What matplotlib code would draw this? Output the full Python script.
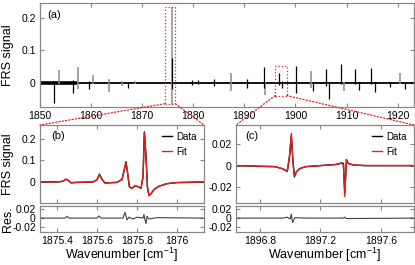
import matplotlib
matplotlib.use("Agg")
import matplotlib.pyplot as plt
from matplotlib.patches import Rectangle, ConnectionPatch

plt.rcParams['font.family'] = ['Liberation Sans', 'DejaVu Sans']
plt.rcParams['mathtext.fontset'] = 'custom'
plt.rcParams['mathtext.rm'] = 'Liberation Sans'

# ---- panel (a): overview line list (position, positive lobe, negative lobe)
black_x = [1852.8, 1856.5, 1859.5, 1867.2, 1875.8, 1879.8, 1881.0, 1884.0, 1890.5,
           1893.8, 1896.8, 1897.4, 1900.1, 1903.5, 1906.0, 1906.5, 1909.0, 1911.7,
           1912.5, 1914.7, 1915.6, 1918.6, 1921.5]
black_top = [0.006, 0.008, 0.004, 0.003, 0.077, 0.008, 0.008, 0.010, 0.010,
             0.048, 0.030, 0.005, 0.052, 0.003, 0.042, 0.003, 0.056, 0.042,
             0.003, 0.046, 0.003, 0.003, 0.003]
black_bot = [-0.064, -0.031, -0.020, -0.015, -0.020, -0.008, -0.003, -0.010, -0.015,
             -0.016, -0.008, -0.018, -0.032, -0.027, -0.010, -0.050, -0.003, -0.005,
             -0.024, -0.005, -0.030, -0.013, -0.020]
gray_x = [1853.8, 1857.5, 1860.4, 1863.6, 1866.0, 1868.5, 1875.85, 1887.4, 1894.0,
          1903.0, 1909.5, 1920.5]
gray_top = [0.040, 0.047, 0.025, 0.011, 0.005, 0.004, 0.234, 0.030, 0.003, 0.036,
            0.003, 0.030]
gray_bot = [-0.005, -0.020, -0.005, -0.030, -0.010, -0.004, -0.068, -0.027, -0.037,
            -0.018, -0.027, -0.003]
base_x = [1850.0, 1923.2]
base_y = [0.0, 0.0]
noisy_x = [1850.3, 1856.8]
noisy_y = [0.0, 0.0]

# ---- panel (b): zoom around 1875.8 cm-1
x_b = [1875.31, 1875.40, 1875.43, 1875.445, 1875.455, 1875.47, 1875.50, 1875.58,
       1875.60, 1875.612, 1875.625, 1875.64, 1875.70, 1875.725, 1875.738, 1875.745,
       1875.752, 1875.762, 1875.775, 1875.79, 1875.805, 1875.82, 1875.83, 1875.837,
       1875.845, 1875.852, 1875.86, 1875.87, 1875.885, 1875.91, 1875.95, 1876.0, 1876.13]
data_b = [0.0, 0.0, 0.003, 0.013, 0.008, -0.004, -0.002, 0.0,
          0.010, 0.036, 0.012, -0.005, -0.002, 0.012, 0.065, 0.094,
          0.048, -0.022, -0.030, -0.018, -0.022, -0.030, 0.025, 0.233,
          0.118, -0.025, -0.063, -0.055, -0.035, -0.020, -0.008, -0.003, 0.0]
fit_b = [0.0, 0.0, 0.003, 0.013, 0.008, -0.004, -0.002, 0.0,
         0.010, 0.035, 0.012, -0.005, -0.002, 0.010, 0.060, 0.090,
         0.050, -0.024, -0.030, -0.018, -0.022, -0.030, 0.020, 0.228,
         0.122, -0.020, -0.065, -0.055, -0.035, -0.020, -0.008, -0.003, 0.0]
xr_b = [1875.31, 1875.44, 1875.45, 1875.46, 1875.60, 1875.61, 1875.62, 1875.73,
        1875.74, 1875.75, 1875.76, 1875.78, 1875.80, 1875.83, 1875.835, 1875.84,
        1875.845, 1875.85, 1875.86, 1875.90, 1876.13]
res_b = [0.0, 0.0, 0.004, 0.0, 0.0, 0.005, 0.0, 0.0,
         0.013, -0.004, 0.002, -0.002, 0.002, 0.0, 0.008, -0.004,
         -0.012, 0.004, -0.002, 0.001, 0.0]

# ---- panel (c): zoom around 1897.2 cm-1
x_c = [1896.64, 1896.90, 1896.95, 1896.98, 1896.995, 1897.007, 1897.017, 1897.027,
       1897.04, 1897.06, 1897.10, 1897.20, 1897.30, 1897.34, 1897.352, 1897.361,
       1897.372, 1897.385, 1897.42, 1897.50, 1897.82]
data_c = [0.0, -0.001, -0.003, -0.0055, 0.008, 0.028, 0.005, -0.0105,
          -0.006, -0.003, -0.001, 0.0, 0.001, 0.0025, 0.002, -0.026,
          0.0056, 0.002, 0.0005, 0.0, 0.0]
fit_c = [0.0, -0.001, -0.003, -0.005, 0.010, 0.030, 0.004, -0.0095,
         -0.006, -0.003, -0.001, 0.0, 0.001, 0.002, 0.001, -0.029,
         0.005, 0.002, 0.0005, 0.0, 0.0]
xr_c = [1896.64, 1896.95, 1896.98, 1897.00, 1897.007, 1897.015, 1897.03, 1897.10,
        1897.35, 1897.36, 1897.37, 1897.82]
res_c = [0.0, 0.0, 0.002, -0.002, 0.009, -0.010, 0.001, 0.0,
         0.0, 0.002, -0.001, 0.0]

W, H = 415, 265
fig = plt.figure(figsize=(W / 100, H / 100), dpi=100)

def rect(l, t, r, b):
    return [l / W, 1 - b / H, (r - l) / W, (b - t) / H]

ax_a = fig.add_axes(rect(40, 3, 414, 107))
ax_b = fig.add_axes(rect(40, 125, 204, 203))
ax_br = fig.add_axes(rect(40, 206, 204, 232))
ax_c = fig.add_axes(rect(236, 125, 414, 203))
ax_cr = fig.add_axes(rect(236, 206, 414, 232))

spine_col = '#888888'
for ax in (ax_a, ax_b, ax_br, ax_c, ax_cr):
    for s in ax.spines.values():
        s.set_color(spine_col)
        s.set_linewidth(0.9)
    ax.tick_params(direction='in', top=True, right=True, length=3, width=0.8,
                   color=spine_col, labelsize=7.5, pad=3)

# (a)
ax_a.plot(base_x, base_y, color='black', lw=1.3)
ax_a.plot(noisy_x, noisy_y, color='black', lw=2.6)
ax_a.vlines(gray_x, gray_bot, gray_top, color='#8c8c8c', lw=1.1)
ax_a.vlines(black_x, black_bot, black_top, color='black', lw=0.9)
ax_a.set_xlim(1850, 1923.2)
ax_a.set_ylim(-0.075, 0.245)
ax_a.set_xticks([1850, 1860, 1870, 1880, 1890, 1900, 1910, 1920])
ax_a.set_yticks([0, 0.1, 0.2])
ax_a.set_yticklabels(['0', '0.1', '0.2'])
ax_a.set_ylabel('FRS signal', fontsize=9)
ax_a.yaxis.set_label_coords(-0.07, 0.5)
ax_a.text(0.02, 0.93, '(a)', transform=ax_a.transAxes, fontsize=8, va='top')

box1 = (1874.4, 1876.5, -0.065, 0.232)
box2 = (1896.0, 1898.3, -0.040, 0.052)
for (x0, x1, y0, y1) in (box1, box2):
    ax_a.add_patch(Rectangle((x0, y0), x1 - x0, y1 - y0, fill=False,
                             ec='#e02020', lw=0.9, ls=':', zorder=5))

# (b)
ax_b.plot(x_b, data_b, color='black', lw=1.0, label='Data')
ax_b.plot(x_b, fit_b, color='#e02020', lw=1.0, label='Fit')
ax_b.set_xlim(1875.315, 1876.135)
ax_b.set_ylim(-0.098, 0.265)
ax_b.set_yticks([0, 0.1, 0.2])
ax_b.set_yticklabels(['0', '0.1', '0.2'])
ax_b.set_xticks([1875.4, 1875.6, 1875.8, 1876.0])
ax_b.tick_params(labelbottom=False)
ax_b.set_ylabel('FRS signal', fontsize=9)
ax_b.yaxis.set_label_coords(-0.16, 0.5)
ax_b.text(0.07, 0.92, '(b)', transform=ax_b.transAxes, fontsize=8, va='top')
ax_b.legend(loc='upper right', frameon=False, fontsize=7, handlelength=1.0,
            handletextpad=0.5, borderaxespad=0.3, labelspacing=0.5)

ax_br.plot(xr_b, res_b, color='#404040', lw=0.8)
ax_br.set_xlim(1875.315, 1876.135)
ax_br.set_ylim(-0.031, 0.027)
ax_br.set_yticks([-0.02, 0, 0.02])
ax_br.set_yticklabels(['-0.02', '0', '0.02'])
ax_br.set_xticks([1875.4, 1875.6, 1875.8, 1876.0])
ax_br.set_xticklabels(['1875.4', '1875.6', '1875.8', '1876'])
ax_br.set_ylabel('Res.', fontsize=9)
ax_br.yaxis.set_label_coords(-0.16, 0.5)
ax_br.set_xlabel('Wavenumber [cm$^{-1}$]', fontsize=9, labelpad=0)

# (c)
ax_c.plot(x_c, data_c, color='black', lw=1.0, label='Data')
ax_c.plot(x_c, fit_c, color='#e02020', lw=1.0, label='Fit')
ax_c.set_xlim(1896.64, 1897.82)
ax_c.set_ylim(-0.035, 0.038)
ax_c.set_yticks([-0.02, 0, 0.02])
ax_c.set_yticklabels(['-0.02', '0', '0.02'])
ax_c.set_xticks([1896.8, 1897.2, 1897.6])
ax_c.tick_params(labelbottom=False)
ax_c.text(0.05, 0.92, '(c)', transform=ax_c.transAxes, fontsize=8, va='top')
ax_c.legend(loc='upper right', frameon=False, fontsize=7, handlelength=1.0,
            handletextpad=0.5, borderaxespad=0.3, labelspacing=0.5)

ax_cr.plot(xr_c, res_c, color='#404040', lw=0.8)
ax_cr.set_xlim(1896.64, 1897.82)
ax_cr.set_ylim(-0.031, 0.027)
ax_cr.set_yticks([-0.02, 0, 0.02])
ax_cr.set_yticklabels(['-0.02', '0', '0.02'])
ax_cr.set_xticks([1896.8, 1897.2, 1897.6])
ax_cr.set_xlabel('Wavenumber [cm$^{-1}$]', fontsize=9, labelpad=0)

# connector lines
for (x0, x1, y0, y1), axz in ((box1, ax_b), (box2, ax_c)):
    for xa, xf in ((x0, 0.0), (x1, 1.0)):
        con = ConnectionPatch(xyA=(xa, y0), coordsA=ax_a.transData,
                              xyB=(xf, 1.0), coordsB=axz.transAxes,
                              color='#e02020', lw=0.9, ls=':')
        fig.add_artist(con)

fig.savefig('out.png', dpi=100)
